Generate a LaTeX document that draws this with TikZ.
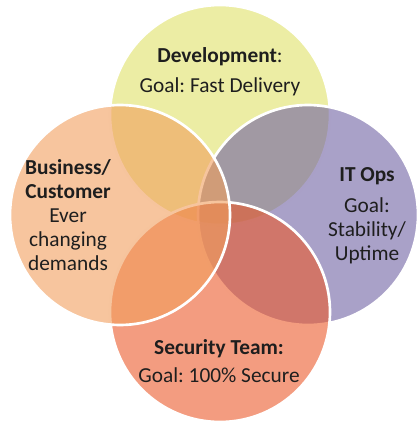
\documentclass[tikz,border=0pt]{standalone}
\usepackage{fontspec}
\setmainfont{Carlito}
\frenchspacing
\definecolor{devfill}{RGB}{223,225,103}
\definecolor{bizfill}{RGB}{241,158,93}
\definecolor{opsfill}{RGB}{112,98,163}
\definecolor{secfill}{RGB}{235,90,43}
\definecolor{textgray}{RGB}{30,30,30}

\begin{document}
\begin{tikzpicture}[x=0.75pt,y=-0.75pt,
    team/.style={circle,draw=white,line width=2pt,fill opacity=0.6,minimum size=165pt,inner sep=0pt},
    goal/.style={align=center,text=textgray,font=\fontsize{16}{18}\selectfont},
    ]
    \useasboundingbox (0,0) rectangle (419,424);
    % the four teams, later ones lie over earlier ones
    \node[team,fill=devfill] (dev) at (220,115) {};
    \node[team,fill=opsfill] (ops) at (308,215) {};
    \node[team,fill=secfill] (sec) at (220,312) {};
    \node[team,fill=bizfill] (biz) at (120,215) {};
    % labels
    \node[goal] (devtext) at (220,72) {\textbf{Development}:\\[4.5pt]Goal: Fast Delivery};
    \node[goal] (biztext) at (68,215) {\textbf{Business/}\\\textbf{Customer}\\Ever\\changing\\demands};
    \node[goal] (opstext) at (367,216) {\textbf{IT Ops}\\[5pt]Goal:\\Stability/\\Uptime};
    \node[goal] (sectext) at (219,361) {\textbf{Security Team:}\\[3pt]Goal: 100\% Secure};
\end{tikzpicture}
\end{document}
